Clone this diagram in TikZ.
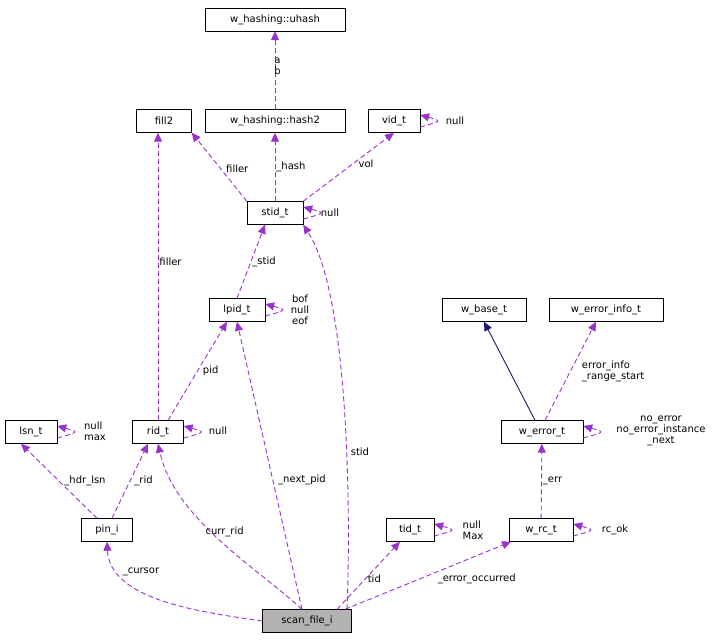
\documentclass[tikz,border=0pt]{standalone}
\usepackage{fontspec}
\setmainfont{DejaVu Sans}
\usetikzlibrary{arrows.meta}
\definecolor{edgepurple}{HTML}{9A32CD}
\definecolor{edgenavy}{HTML}{191970}
\tikzset{
  box/.style={draw,fill=white,inner sep=0pt,minimum height=23pt,font=\fontsize{10}{11}\selectfont},
  lbl/.style={font=\fontsize{10}{11}\selectfont,align=left,inner sep=1pt},
  edge/.style={draw=edgepurple,line width=0.9pt,dash pattern=on 5pt off 3pt,-{Triangle[length=9pt,width=8pt,fill=edgepurple]}},
  base/.style={draw=edgenavy,line width=0.9pt,-{Triangle[length=9pt,width=8pt,fill=edgenavy]}}
}
\begin{document}
\begin{tikzpicture}[x=1pt,y=-1pt]
\useasboundingbox (0,0) rectangle (727,643);
% classes
\node[box,minimum width=140pt] (uhash) at (275,19.5) {w\_hashing::uhash};
\node[box,minimum width=55pt] (fill) at (164,121) {fill2};
\node[box,minimum width=140pt] (hash) at (275,121) {w\_hashing::hash2};
\node[box,minimum width=52pt] (vid) at (394,121) {vid\_t};
\node[box,minimum width=56pt] (stid) at (275,213) {stid\_t};
\node[box,minimum width=56pt] (lpid) at (237,310) {lpid\_t};
\node[box,minimum width=84pt] (wbase) at (484,310) {w\_base\_t};
\node[box,minimum width=114pt] (winfo) at (606,310) {w\_error\_info\_t};
\node[box,minimum width=52pt] (lsn) at (31,432) {lsn\_t};
\node[box,minimum width=51pt] (rid) at (158,432) {rid\_t};
\node[box,minimum width=82pt] (werr) at (542,432) {w\_error\_t};
\node[box,minimum width=51pt] (pin) at (107,530) {pin\_i};
\node[box,minimum width=48pt] (tid) at (410,530) {tid\_t};
\node[box,minimum width=64pt] (wrc) at (541,530) {w\_rc\_t};
\node[box,minimum width=89pt,fill=black!30] (scan) at (307,621) {scan\_file\_i};
% edges
\draw[edge] (hash) -- (uhash) node[lbl,pos=0.55,right=-2pt] {a\\b};
\draw[edge] (stid.north west) -- (fill.south east) node[lbl,pos=0.4,above right] {filler};
\draw[edge] (stid) -- (hash) node[lbl,midway,right] {\_hash};
\draw[edge] (stid.north east) -- (vid.south) node[lbl,pos=0.55,right=4pt] {vol};
\draw[edge] (lpid.north) -- ([xshift=-10pt]stid.south) node[lbl,midway,right] {\_stid};
\draw[edge] (rid.north) -- (rid.north|-fill.south) node[lbl,pos=0.55,right] {filler};
\draw[edge] ([xshift=10pt]rid.north) -- ([xshift=-10pt]lpid.south) node[lbl,pos=0.5,right=4pt] {pid};
\draw[edge] ([xshift=-10pt]pin.north) -- ([xshift=-10pt]lsn.south) node[lbl,pos=0.5,right=4pt] {\_hdr\_lsn};
\draw[edge] ([xshift=5pt]pin.north) -- ([xshift=-10pt]rid.south) node[lbl,pos=0.5,right=3pt] {\_rid};
\draw[edge] (scan.west) .. controls (200,612) and (110,600) .. (pin.south) node[lbl,pos=0.8,right=3pt] {\_cursor};
\draw[edge] ([xshift=-5pt]scan.north) .. controls (260,570) and (175,520) .. (rid.south) node[lbl,pos=0.55,right=-8pt] {curr\_rid};
\draw[edge] ([xshift=-5pt]scan.north) -- (lpid.south) node[lbl,pos=0.45,right=4pt] {\_next\_pid};
\draw[edge] ([xshift=40pt]scan.north) .. controls (350,540) and (352,300) .. (stid.south east) node[lbl,pos=0.43,right=3pt] {stid};
\draw[edge] ([xshift=30pt]scan.north) -- ([xshift=-10pt]tid.south) node[lbl,pos=0.45,right=1pt] {tid};
\draw[edge] ([xshift=38pt]scan.north) -- ([xshift=-30pt]wrc.south) node[lbl,pos=0.55,below right=0pt] {\_error\_occurred};
\draw[edge] (wrc) -- (werr) node[lbl,midway,right] {\_err};
\draw[base] ([xshift=-7pt]werr.north) -- (wbase.south);
\draw[edge] ([xshift=3pt]werr.north) -- ([xshift=-10pt]winfo.south) node[lbl,pos=0.5,right=10pt] {error\_info\\\_range\_start};
% self loops
\draw[edge] ([yshift=-6pt]stid.east) .. controls +(22,-6) and +(22,6) .. ([yshift=6pt]stid.east);
\node[lbl] (stidnull) at (330,213) {null};
\draw[edge] ([yshift=-6pt]lpid.east) .. controls +(22,-6) and +(22,6) .. ([yshift=6pt]lpid.east);
\node[lbl,align=center] (lpidlbl) at (300,310) {bof\\null\\eof};
\draw[edge] ([yshift=-6pt]vid.east) .. controls +(22,-6) and +(22,6) .. ([yshift=6pt]vid.east);
\node[lbl] (vidnull) at (455,121) {null};
\draw[edge] ([yshift=-6pt]rid.east) .. controls +(22,-6) and +(22,6) .. ([yshift=6pt]rid.east);
\node[lbl] (ridnull) at (218,431) {null};
\draw[edge] ([yshift=-6pt]lsn.east) .. controls +(22,-6) and +(22,6) .. ([yshift=6pt]lsn.east);
\node[lbl] (lsnlbl) at (95,431) {null\\max};
\draw[edge] ([yshift=-6pt]werr.east) .. controls +(22,-6) and +(22,6) .. ([yshift=6pt]werr.east);
\node[lbl,align=center] (werrlbl) at (661,431) {no\_error\\no\_error\_instance\\\_next};
\draw[edge] ([yshift=-6pt]tid.east) .. controls +(22,-6) and +(22,6) .. ([yshift=6pt]tid.east);
\node[lbl] (tidlbl) at (473,530) {null\\Max};
\draw[edge] ([yshift=-6pt]wrc.east) .. controls +(22,-6) and +(22,6) .. ([yshift=6pt]wrc.east);
\node[lbl] (wrclbl) at (615,530) {rc\_ok};
\end{tikzpicture}
\end{document}
